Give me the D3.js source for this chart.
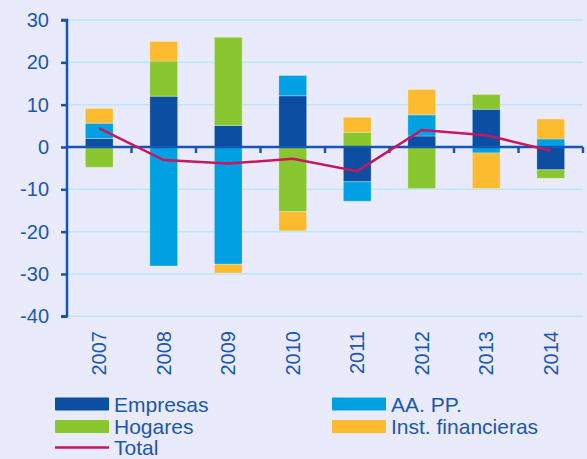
<!DOCTYPE html>
<html>
<head>
<meta charset="utf-8">
<script src="https://cdn.jsdelivr.net/npm/d3@7"></script>
<style>
  html, body { margin: 0; padding: 0; background: #e9eafb; }
  svg { display: block; }
  svg text { font-family: "Liberation Sans", Arial, sans-serif; }
</style>
</head>
<body>
<div class="chart"></div>
<script>
const years = ["2007", "2008", "2009", "2010", "2011", "2012", "2013", "2014"];
const empresas = [2.0, 12.0, 5.1, 12.1, -8.2, 2.6, 8.9, -5.4];
const aapp = [3.6, -28.1, -27.7, 4.8, -4.6, 5.0, -1.4, 1.9];
const hogares = [-4.8, 8.3, 20.8, -15.3, 3.5, -9.8, 3.5, -2.0];
const instFin = [3.5, 4.6, -2.1, -4.5, 3.5, 6.0, -8.4, 4.7];
const total = [4.4, -3.1, -3.9, -2.8, -5.7, 4.0, 2.8, -0.9];
const yTicks = [30, 20, 10, 0, -10, -20, -30, -40];

const series = [
  { key: "Empresas", values: empresas, color: "#0b4ea2" },
  { key: "AA. PP.", values: aapp, color: "#00a0e3" },
  { key: "Hogares", values: hogares, color: "#89c62f" },
  { key: "Inst. financieras", values: instFin, color: "#fdbc2f" }
];

const rows = years.map((yr, i) => {
  const r = { year: yr };
  series.forEach(s => { r[s.key] = s.values[i]; });
  return r;
});

const W = 587, H = 459;
const font = "Liberation Sans, Arial, sans-serif";
const textColor = "#1a58b3";
const axisColor = "#1656b0";

const svg = d3.select(".chart").append("svg")
  .attr("width", W).attr("height", H)
  .attr("viewBox", `0 0 ${W} ${H}`)
  .attr("font-family", font);

svg.append("rect").attr("width", W).attr("height", H).attr("fill", "#e9eafb");

const x = d3.scaleBand().domain(years).range([67, 583]).padding(0);
const y = d3.scaleLinear().domain([-40, 30]).range([316.3, 20]);

// gridlines
svg.append("g")
  .selectAll("line")
  .data(yTicks.filter(d => d !== 0))
  .join("line")
  .attr("x1", 67).attr("x2", 583)
  .attr("y1", d => y(d)).attr("y2", d => y(d))
  .attr("stroke", "#bde6fa").attr("stroke-width", 1.5);

// stacked bars
const stack = d3.stack()
  .keys(series.map(s => s.key))
  .offset(d3.stackOffsetDiverging);
const stacked = stack(rows);

const barW = x.bandwidth() * 0.43;

svg.append("g")
  .selectAll("g")
  .data(stacked)
  .join("g")
  .attr("fill", (d, i) => series[i].color)
  .selectAll("rect")
  .data(d => d)
  .join("rect")
  .attr("x", d => x(d.data.year) + (x.bandwidth() - barW) / 2)
  .attr("width", barW)
  .attr("y", d => y(Math.max(d[0], d[1])))
  .attr("height", d => Math.abs(y(d[0]) - y(d[1])))
  .attr("rx", 1)
  .attr("stroke", "rgba(255,255,255,0.35)")
  .attr("stroke-width", 0.8);

// y axis
const yAxis = svg.append("g")
  .attr("transform", "translate(67,0)")
  .call(d3.axisLeft(y).tickValues(yTicks).tickSize(6).tickPadding(12).tickFormat(d => String(d)))
  .attr("font-family", font);
yAxis.select(".domain").attr("stroke", axisColor).attr("stroke-width", 2.5)
  .attr("d", `M-6,${y(30)}H0V${y(-40)}H-6`);
yAxis.selectAll(".tick line").attr("stroke", axisColor).attr("stroke-width", 2.5);
yAxis.selectAll(".tick text")
  .attr("fill", textColor)
  .attr("font-size", 20);

// zero line with ticks at band boundaries
svg.append("line")
  .attr("x1", 67).attr("x2", 583)
  .attr("y1", y(0)).attr("y2", y(0))
  .attr("stroke", axisColor).attr("stroke-width", 2.5);
svg.append("g")
  .selectAll("line")
  .data(years)
  .join("line")
  .attr("x1", d => x(d) + x.bandwidth()).attr("x2", d => x(d) + x.bandwidth())
  .attr("y1", y(0)).attr("y2", y(0) + 6)
  .attr("stroke", axisColor).attr("stroke-width", 2.5);

// year labels
svg.append("g")
  .selectAll("text")
  .data(years)
  .join("text")
  .attr("transform", d => `translate(${x(d) + x.bandwidth() / 2},331) rotate(-90)`)
  .attr("text-anchor", "end")
  .attr("dy", "0.36em")
  .attr("fill", textColor)
  .attr("font-size", 20)
  .text(d => d);

// total line
const line = d3.line()
  .x((d, i) => x(years[i]) + x.bandwidth() / 2)
  .y(d => y(d));
svg.append("path")
  .datum(total)
  .attr("d", line)
  .attr("fill", "none")
  .attr("stroke", "#c8175d")
  .attr("stroke-width", 2.5);

// legend
const legendItems = [
  { label: "Empresas", color: series[0].color, col: 0, row: 0 },
  { label: "AA. PP.", color: series[1].color, col: 1, row: 0 },
  { label: "Hogares", color: series[2].color, col: 0, row: 1 },
  { label: "Inst. financieras", color: series[3].color, col: 1, row: 1 },
  { label: "Total", color: "#c8175d", col: 0, row: 2, line: true }
];
const colX = [55, 332];
const rowY = [404, 426.5, 447.5];

const lg = svg.append("g")
  .selectAll("g")
  .data(legendItems)
  .join("g")
  .attr("transform", d => `translate(${colX[d.col]},${rowY[d.row]})`);

lg.filter(d => !d.line).append("rect")
  .attr("x", 0).attr("y", -6.5)
  .attr("width", 54).attr("height", 13)
  .attr("rx", 1)
  .attr("fill", d => d.color);
lg.filter(d => d.line).append("line")
  .attr("x1", 0).attr("x2", 54)
  .attr("stroke", d => d.color).attr("stroke-width", 2.5);
lg.append("text")
  .attr("x", 59)
  .attr("dy", "0.36em")
  .attr("fill", textColor)
  .attr("font-size", 21)
  .text(d => d.label);
</script>
</body>
</html>
